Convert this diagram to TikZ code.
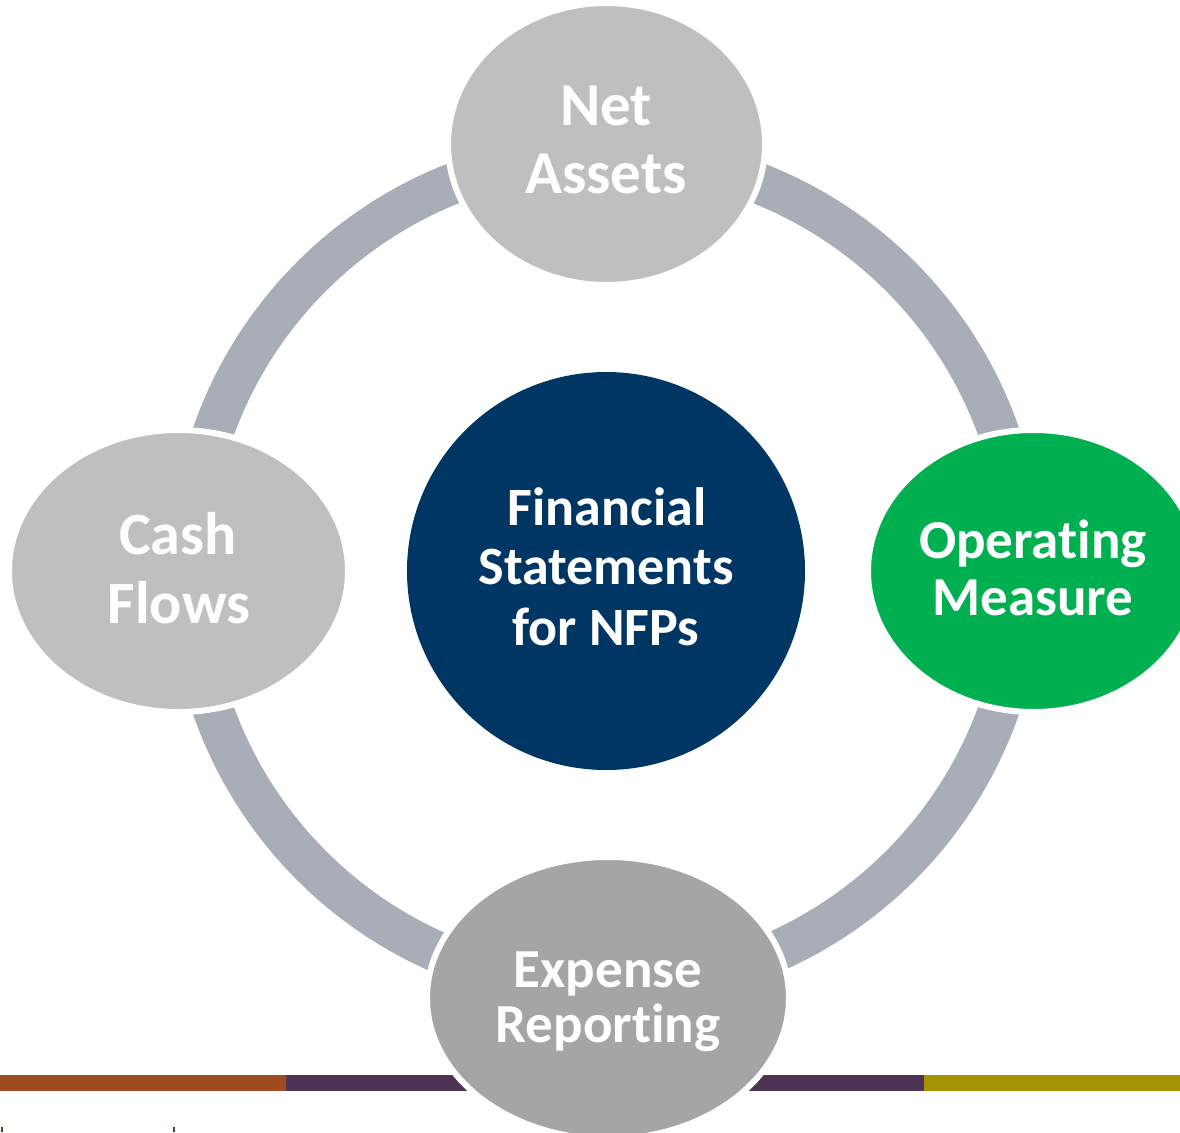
\documentclass[tikz,border=0pt]{standalone}
\usepackage{fontspec}
\setmainfont[Ligatures={NoCommon}]{Carlito}
\usetikzlibrary{shapes.geometric}
\definecolor{ringgray}{HTML}{A9ADB8}
\definecolor{lightgray}{HTML}{BFBFBF}
\definecolor{midgray}{HTML}{A5A5A5}
\definecolor{opgreen}{HTML}{00B050}
\definecolor{navy}{HTML}{003663}
\definecolor{barbrown}{HTML}{9E4B1E}
\definecolor{barpurple}{HTML}{4E3355}
\definecolor{barolive}{HTML}{A59300}
\tikzset{
  bubble/.style={ellipse, inner sep=0pt, draw=white, line width=6pt},
  lbl/.style={anchor=base, text=white, inner sep=0pt, font=\bfseries\fontsize{#1}{#1}\selectfont},
}
\begin{document}
\begin{tikzpicture}[x=1pt,y=-1pt]
\useasboundingbox (0,0) rectangle (1180,1132);
\clip (0,0) rectangle (1180,1132);
% ring
\node[circle, minimum size=833pt, draw=ringgray, line width=41pt, inner sep=0pt] (ring) at (606,571) {};
% bottom bar
\fill[barbrown] (0,1075) rectangle (286,1091);
\fill[barpurple] (286,1075) rectangle (924,1091);
\fill[barolive] (924,1075) rectangle (1180,1091);
\fill[barbrown!70!black] (1,1127) rectangle (3,1132);
\fill[barbrown!70!black] (173,1127) rectangle (175,1132);
% bubbles
\node[bubble, fill=lightgray, minimum width=317pt, minimum height=282pt] (na) at (606.5,144) {};
\node[bubble, fill=lightgray, minimum width=339pt, minimum height=282pt] (cf) at (178.5,571) {};
\node[bubble, fill=opgreen, minimum width=331pt, minimum height=282pt] (om) at (1033.5,571) {};
\node[bubble, fill=midgray, minimum width=362pt, minimum height=282pt] (er) at (608,998) {};
\node[circle, fill=navy, minimum size=398pt, inner sep=0pt] (fs) at (606,571) {};
% labels
\node[lbl=61] (na1) at (606,125) {Net};
\node[lbl=61] (na2) at (606,193) {Assets};
\node[lbl=60] (cf1) at (178,554) {Cash};
\node[lbl=60] (cf2) at (179,623) {Flows};
\node[lbl=54] (fs1) at (607,525) {Financial};
\node[lbl=54] (fs2) at (606,584) {Statements};
\node[lbl=54] (fs3) at (606,645) {for NFPs};
\node[lbl=55] (om1) at (1033,558) {Operating};
\node[lbl=55] (om2) at (1033,615) {Measure};
\node[lbl=55] (er1) at (608,987) {Expense};
\node[lbl=55] (er2) at (608,1042) {Reporting};
\end{tikzpicture}
\end{document}
